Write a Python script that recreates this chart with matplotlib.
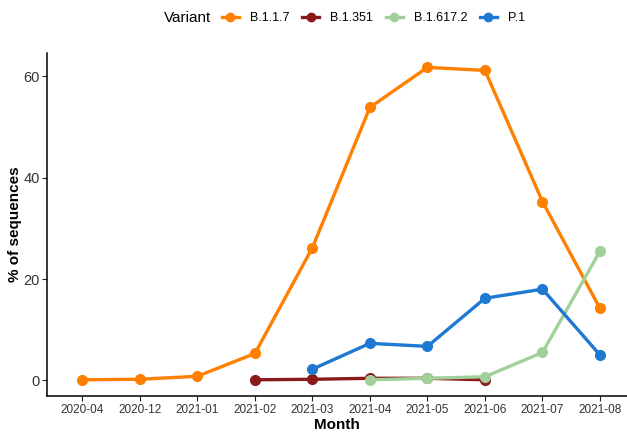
import matplotlib
matplotlib.use("Agg")
import matplotlib.pyplot as plt
from matplotlib.lines import Line2D

plt.rcParams['font.family'] = ['Liberation Sans', 'DejaVu Sans']

months = ["2020-04", "2020-12", "2021-01", "2021-02", "2021-03",
          "2021-04", "2021-05", "2021-06", "2021-07", "2021-08"]

b117_months = months
b117 = [0.1, 0.2, 0.8, 5.3, 26.2, 53.9, 61.8, 61.2, 35.3, 14.2]

b1351_months = ["2021-02", "2021-03", "2021-04", "2021-05", "2021-06"]
b1351 = [0.1, 0.2, 0.4, 0.4, 0.1]

b16172_months = ["2021-04", "2021-05", "2021-06", "2021-07", "2021-08"]
b16172 = [0.1, 0.4, 0.7, 5.5, 25.5]

p1_months = ["2021-03", "2021-04", "2021-05", "2021-06", "2021-07", "2021-08"]
p1 = [2.2, 7.3, 6.7, 16.2, 18.0, 5.0]

series = [
    ("B.1.1.7", b117_months, b117, "#FF8000"),
    ("B.1.351", b1351_months, b1351, "#8B1A1A"),
    ("B.1.617.2", b16172_months, b16172, "#A1D09A"),
    ("P.1", p1_months, p1, "#1F78D1"),
]

fig = plt.figure(figsize=(6.27, 4.32), dpi=100)
ax = fig.add_axes([47.3 / 627, 36 / 432, (627 - 47.3) / 627, (396 - 52.7) / 432])

for name, ms, vals, col in series:
    xs = [months.index(m) for m in ms]
    ax.plot(xs, vals, color=col, lw=2.4, marker="o", ms=7, mec=col, label=name)

ax.set_xlim(-0.61, 9.47)
ax.set_ylim(-3.1, 64.7)
ax.set_xticks(range(len(months)))
ax.set_xticklabels(months)
ax.set_yticks([0, 20, 40, 60])
ax.tick_params(axis="x", labelsize=8.5, colors="#222222", length=3.5, width=0.8, pad=2)
ax.tick_params(axis="y", labelsize=10.5, colors="#222222", length=3.5, width=0.8, pad=2)
for t in ax.get_xticklabels() + ax.get_yticklabels():
    t.set_color("#333333")
ax.spines["top"].set_visible(False)
ax.spines["right"].set_visible(False)
ax.spines["left"].set_linewidth(1.1)
ax.spines["bottom"].set_linewidth(1.1)
ax.set_xlabel("Month", fontsize=11, fontweight="bold", labelpad=2)
ax.set_ylabel("% of sequences", fontsize=11, fontweight="bold", labelpad=1)

# legend on top, title to the left
fig.text(164 / 627, 1 - 18 / 432, "Variant", fontsize=11, ha="left", va="center")
handles = [Line2D([], [], color=c, lw=2.4, marker="o", ms=6, label=n) for n, _, _, c in series]
fig.legend(handles=handles, loc="center left", bbox_to_anchor=(222 / 627, 1 - 18 / 432),
           ncol=4, frameon=False, fontsize=9, handlelength=1.35, handletextpad=0.9,
           columnspacing=1.0, borderaxespad=0, borderpad=0)

fig.savefig("out.png", dpi=100)
